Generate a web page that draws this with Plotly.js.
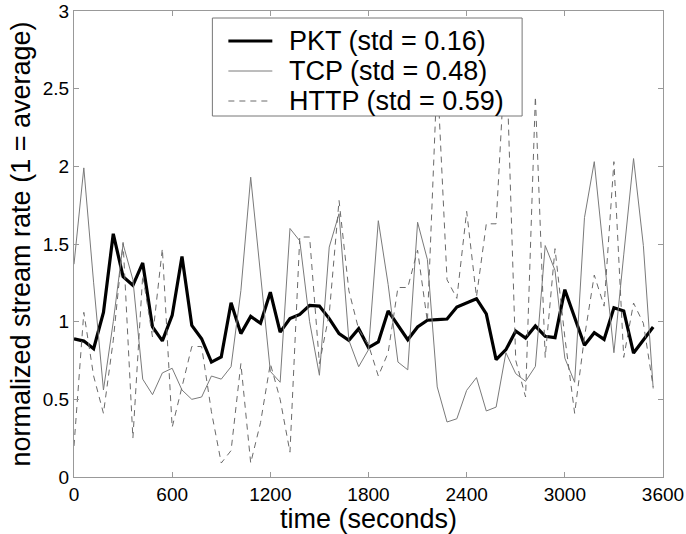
<!DOCTYPE html>
<html>
<head>
<meta charset="utf-8">
<script src="https://cdn.plot.ly/plotly-3.0.1.min.js"></script>
<style>html,body{margin:0;padding:0;background:#fff;}#chart{width:686px;height:534px;}</style>
</head>
<body>
<div id="chart"></div>
<script>
const timeSec = [0,60,120,180,240,300,360,420,480,540,600,660,720,780,840,900,960,1020,1080,1140,
  1200,1260,1320,1380,1440,1500,1560,1620,1680,1740,1800,1860,1920,1980,2040,2100,2160,2220,2280,2340,
  2400,2460,2520,2580,2640,2700,2760,2820,2880,2940,3000,3060,3120,3180,3240,3300,3360,3420,3480,3540];

const pkt = [0.89,0.875,0.826,1.06,1.566,1.29,1.234,1.378,0.966,0.876,
  1.04,1.42,0.976,0.89,0.74,0.773,1.122,0.923,1.034,0.99,
  1.19,0.933,1.02,1.047,1.105,1.10,1.02,0.923,0.88,0.955,
  0.833,0.87,1.069,0.976,0.884,0.966,1.009,1.013,1.017,1.094,
  1.12,1.148,1.05,0.755,0.82,0.94,0.895,0.972,0.906,0.897,
  1.206,1.019,0.848,0.929,0.886,1.09,1.069,0.798,0.88,0.966];

const tcp = [1.37,1.99,1.25,0.56,1.0,1.5,1.27,0.63,0.53,0.67,
  0.70,0.56,0.50,0.515,0.65,0.63,0.71,1.2,1.93,1.3,
  0.68,0.61,1.6,1.52,1.0,0.655,1.48,1.695,0.88,0.71,
  0.82,1.65,1.24,0.74,0.69,1.64,1.4,0.58,0.354,0.375,
  0.558,0.64,0.425,0.45,0.80,0.665,0.616,0.712,1.49,1.33,
  0.765,0.61,1.67,2.03,1.42,0.80,1.43,2.05,1.49,0.57];

const http = [0.2,1.06,0.65,0.41,0.88,1.51,0.25,1.3,0.9,1.47,
  0.32,0.58,0.84,0.84,0.42,0.09,0.17,0.73,0.09,0.35,
  0.73,0.5,0.16,1.545,1.545,0.73,1.05,1.78,1.2,0.95,
  0.85,0.65,0.8,1.22,1.22,1.46,1.0,2.6,1.27,1.15,
  1.71,1.16,1.63,1.63,2.8,0.75,0.515,2.45,0.77,1.47,
  0.9,0.41,0.9,1.3,1.1,2.03,0.77,1.12,0.99,0.58];

const seriesNames = ["PKT (std = 0.16)", "TCP (std = 0.48)", "HTTP (std = 0.59)"];
const xTicks = [0,600,1200,1800,2400,3000,3600];
const yTicks = [0,0.5,1,1.5,2,2.5,3];
const yTickText = ["0","0.5","1","1.5","2","2.5","3"];

const FONT = "Liberation Sans, Arial, Helvetica, sans-serif";
const styles = [
  {color: "#000000", width: 3.2, dash: "solid"},
  {color: "#7a7a7a", width: 1, dash: "solid"},
  {color: "#6a6a6a", width: 1, dash: "6px,5px"}
];
const seriesData = [pkt, tcp, http];

const traces = seriesData.map((ys, i) => ({
  x: timeSec, y: ys, name: seriesNames[i], type: "scatter", mode: "lines",
  line: styles[i], showlegend: false
}));

// plot area geometry (pixels) for placing the boxed legend like the original
const M = {l: 73.5, r: 23, t: 11, b: 57};
const PW = 686 - M.l - M.r, PH = 534 - M.t - M.b;
const px = v => (v - M.l) / PW;
const py = v => (534 - M.b - v) / PH;

const legBox = {x0: 212, x1: 522, y0: 18, y1: 116};
const rowY = [41, 71, 101];
const shapes = [{
  type: "rect", xref: "paper", yref: "paper", layer: "above",
  x0: px(legBox.x0), x1: px(legBox.x1), y0: py(legBox.y1), y1: py(legBox.y0),
  fillcolor: "#ffffff", line: {color: "#777", width: 1}
}];
const annotations = [];
seriesNames.forEach((nm, i) => {
  shapes.push({type: "line", xref: "paper", yref: "paper", layer: "above",
    x0: px(228), x1: px(272), y0: py(rowY[i]), y1: py(rowY[i]),
    line: styles[i]});
  annotations.push({xref: "paper", yref: "paper", x: px(287), y: py(rowY[i]),
    xanchor: "left", yanchor: "middle", showarrow: false, text: nm,
    font: {family: FONT, size: 27, color: "#000"}});
});

const layout = {
  width: 686, height: 534,
  margin: {l: M.l, r: M.r, t: M.t, b: M.b, pad: 0},
  paper_bgcolor: "#fff", plot_bgcolor: "#fff",
  font: {family: FONT, color: "#000", size: 19},
  showlegend: false,
  shapes: shapes, annotations: annotations,
  xaxis: {
    range: [0, 3600], tickvals: xTicks, ticktext: xTicks.map(String),
    ticks: "inside", ticklen: 5, tickcolor: "#999", tickwidth: 1,
    showline: true, linecolor: "#999", linewidth: 1, mirror: "ticks",
    showgrid: false, zeroline: false,
    tickfont: {family: FONT, size: 19, color: "#000"},
    title: {text: "time (seconds)", font: {family: FONT, size: 27, color: "#000"}, standoff: 0}
  },
  yaxis: {
    range: [0, 3], tickvals: yTicks, ticktext: yTickText,
    ticks: "inside", ticklen: 5, tickcolor: "#999", tickwidth: 1,
    showline: true, linecolor: "#999", linewidth: 1, mirror: "ticks",
    showgrid: false, zeroline: false,
    tickfont: {family: FONT, size: 19, color: "#000"},
    title: {text: "normalized stream rate (1 = average)", font: {family: FONT, size: 27, color: "#000"}, standoff: 4}
  }
};

Plotly.newPlot("chart", traces, layout, {displayModeBar: false, staticPlot: true});
</script>
</body>
</html>
